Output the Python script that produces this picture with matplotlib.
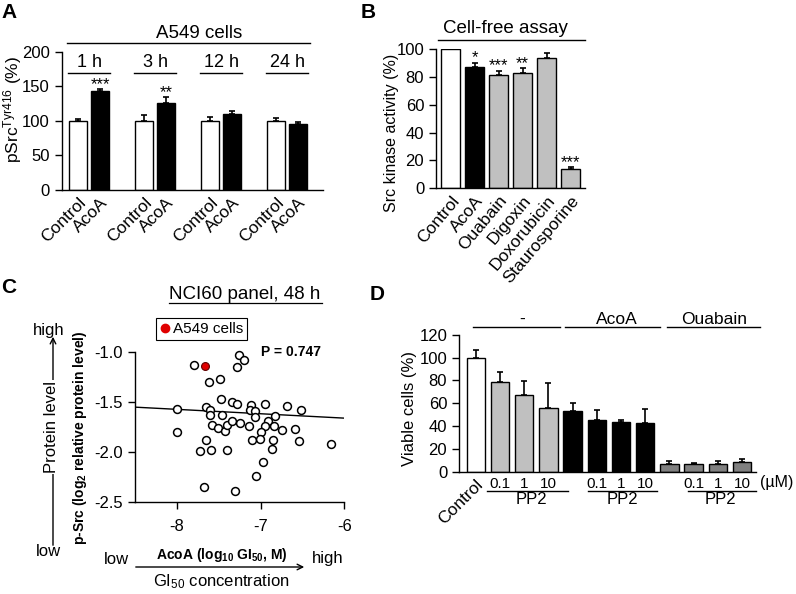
import numpy as np
import matplotlib
matplotlib.use('Agg')
import matplotlib.pyplot as plt
from matplotlib.lines import Line2D

plt.rcParams['font.family'] = ['Liberation Sans', 'DejaVu Sans']
plt.rcParams['mathtext.fontset'] = 'custom'
plt.rcParams['mathtext.rm'] = 'Liberation Sans'
plt.rcParams['mathtext.bf'] = 'Liberation Sans:bold'
plt.rcParams['mathtext.it'] = 'Liberation Sans:italic'
plt.rcParams['axes.unicode_minus'] = False
plt.rcParams['axes.linewidth'] = 1.0

# --- A: pSrc in A549 cells
time_points = ['1 h', '3 h', '12 h', '24 h']
a_control = [100, 100, 100, 100]
a_control_err = [3, 8, 5, 4]
a_acoa = [143, 126, 110.5, 96]
a_acoa_err = [2.5, 8, 3.5, 2]
a_stars = ['***', '**', '', '']

# --- B: cell-free assay
b_labels = ['Control', 'AcoA', 'Ouabain', 'Digoxin', 'Doxorubicin', 'Staurosporine']
b_values = [100, 87.5, 81.5, 83.2, 94, 14]
b_err = [0, 3, 3, 3, 3, 1]
b_colors = ['white', 'black', '#c0c0c0', '#c0c0c0', '#c0c0c0', '#c0c0c0']
b_stars = ['', '*', '***', '**', '', '***']

# --- C: NCI60 scatter
c_gi50 = [-7.80, -7.26, -7.20, -7.28, -7.62, -7.49, -8.00, -8.00,
          -7.47, -7.34, -7.28, -7.65, -7.60, -7.60, -7.46, -7.12, -7.13, -7.07, -7.07,
          -6.95, -6.68, -6.52, -6.83,
          -7.58, -7.51, -7.43, -7.40, -7.34, -7.25, -7.14, -6.91, -6.95, -6.99, -6.84,
          -6.75, -6.59,
          -7.65, -7.10, -7.01, -6.85, -6.54, -6.16,
          -7.72, -7.59, -7.40, -6.86,
          -6.97, -7.06, -7.67, -7.30]
c_psrc = [-1.13, -1.03, -1.08, -1.15, -1.30, -1.27, -1.57, -1.80,
          -1.47, -1.50, -1.52, -1.55, -1.58, -1.63, -1.63, -1.53, -1.58, -1.59, -1.65,
          -1.52, -1.54, -1.58, -1.64,
          -1.73, -1.76, -1.79, -1.73, -1.69, -1.71, -1.74, -1.69, -1.74, -1.80, -1.74,
          -1.78, -1.77,
          -1.88, -1.88, -1.87, -1.88, -1.89, -1.92,
          -1.99, -1.98, -1.98, -1.97,
          -2.10, -2.24, -2.35, -2.39]
a549_gi50 = -7.66
a549_psrc = -1.137
fit_x = [-8.5, -6.0]
fit_y = [-1.55, -1.66]
p_value = 0.747

# --- D: viable cells
d_groups = ['-', 'AcoA', 'Ouabain']
d_ticks = ['Control', '0.1', '1', '10', '', '0.1', '1', '10', '', '0.1', '1', '10']
d_values = [100, 78.7, 67.6, 56, 53.4, 45.2, 43.7, 42.9, 7, 7, 7, 8.5]
d_err = [7, 8.5, 12, 22, 7, 8.7, 1.8, 12, 2, 1, 2.5, 3]
d_colors = ['white'] + ['#c0c0c0'] * 3 + ['black'] * 4 + ['#808080'] * 4

W, H = 796, 594
fig = plt.figure(figsize=(W / 100, H / 100), dpi=100)


def rect(x0, y0, x1, y1):
    # pixel box -> figure fraction
    return [x0 / W, 1 - y1 / H, (x1 - x0) / W, (y1 - y0) / H]


def ftext(x, y, s, **kw):
    # text placed by pixel centre
    kw.setdefault('ha', 'center')
    kw.setdefault('va', 'center')
    return fig.text(x / W, 1 - y / H, s, **kw)


def style(ax):
    for s in ['top', 'right']:
        ax.spines[s].set_visible(False)
    ax.tick_params(axis='y', direction='out', length=5, width=1, labelsize=12)
    ax.tick_params(axis='x', length=0, labelsize=12)


ekw = dict(ecolor='black', elinewidth=1.2, capsize=2.5, capthick=1.2)

# panel A
axA = fig.add_axes(rect(61.7, 51.7, 323, 190))
pos_c = np.arange(4) * 3
pos_a = pos_c + 1
axA.bar(pos_c, a_control, 0.83, color='white', edgecolor='black', lw=1,
        yerr=[np.zeros(4), a_control_err], error_kw=ekw)
axA.bar(pos_a, a_acoa, 0.83, color='black', edgecolor='black', lw=1,
        yerr=[np.zeros(4), a_acoa_err], error_kw=ekw)
for x, v, e, s in zip(pos_a, a_acoa, a_acoa_err, a_stars):
    axA.text(x, v + e + 1, s, ha='center', va='baseline', fontsize=12)
for x, t in zip(pos_c, time_points):
    axA.plot([x - 0.45, x + 1.45], [169.6, 169.6], color='k', lw=1, clip_on=False)
    axA.text(x + 0.5, 184, t, ha='center', va='center', fontsize=13)
axA.plot([-0.53, 10.53], [212, 212], color='k', lw=1, clip_on=False)
axA.text(5.5, 226, 'A549 cells', ha='center', va='center', fontsize=13.5)
style(axA)
axA.set_ylim(0, 200)
axA.set_yticks([0, 50, 100, 150, 200])
axA.set_xlim(-0.75, 11.12)
axA.set_xticks(np.ravel(np.column_stack([pos_c, pos_a])))
axA.set_xticklabels(['Control', 'AcoA'] * 4, rotation=45, ha='right',
                    rotation_mode='anchor', fontsize=12.5)
ftext(13, 110, 'pSrc$^{\\mathrm{Tyr416}}$ (%)', fontsize=12.5, rotation=90)

# panel B
axB = fig.add_axes(rect(436, 49.3, 585, 188.3))
pos_b = np.arange(len(b_labels))
axB.bar(pos_b, b_values, 0.79, color=b_colors, edgecolor='black', lw=1,
        yerr=[np.zeros(len(b_err)), b_err], error_kw=ekw)
for x, v, e, s in zip(pos_b, b_values, b_err, b_stars):
    axB.text(x, v + e + 0.5, s, ha='center', va='baseline', fontsize=12)
axB.plot([-0.53, 5.6], [106.7, 106.7], color='k', lw=1, clip_on=False)
axB.text(2.3, 115, 'Cell-free assay', ha='center', va='center', fontsize=13.5)
style(axB)
axB.set_ylim(0, 100)
axB.set_yticks(range(0, 101, 20))
axB.set_xlim(-0.61, 5.6)
axB.set_xticks(pos_b)
axB.set_xticklabels(b_labels, rotation=50, ha='right', rotation_mode='anchor',
                    fontsize=12.5)
ftext(391.7, 133.3, 'Src kinase activity (%)', fontsize=11.5, rotation=90)

# panel C
axC = fig.add_axes(rect(135, 312.3, 344.3, 502))
axC.plot(fit_x, fit_y, color='black', lw=1, zorder=2)
axC.scatter(c_gi50, c_psrc, s=32, facecolor='white', edgecolor='black',
            lw=1.1, zorder=3, clip_on=False)
axC.scatter([a549_gi50], [a549_psrc], s=32, facecolor='#e00000',
            edgecolor='#600000', lw=0.8, zorder=4)
axC.spines['top'].set_visible(False)
axC.spines['right'].set_visible(False)
axC.spines['left'].set_bounds(-2.5, -1.0)
axC.set_xlim(-8.5, -6)
axC.set_ylim(-2.5, -0.6)
axC.set_xticks([-8, -7, -6])
axC.set_yticks([-1.0, -1.5, -2.0, -2.5])
axC.set_yticklabels(['%.1f' % t for t in [-1.0, -1.5, -2.0, -2.5]])
axC.tick_params(direction='out', length=5, width=1, labelsize=12)
axC.tick_params(axis='x', pad=7)
axC.text(-7.0, -1.0, 'P = %.3f' % p_value, fontsize=10, fontweight='bold',
         va='center', ha='left')
h = Line2D([], [], marker='o', ls='none', markerfacecolor='#e00000',
           markeredgecolor='#e00000', markersize=6)
leg = axC.legend([h], ['A549 cells'], loc='upper left',
                 bbox_to_anchor=(0.1, 0.968), borderaxespad=0, fontsize=11,
                 frameon=True, fancybox=False, framealpha=1, edgecolor='black',
                 borderpad=0.25, handlelength=0.7, handletextpad=0.15)
leg.get_frame().set_linewidth(0.8)
ftext(80, 438, 'p-Src (log$_{\\mathbf{2}}$ relative protein level)',
      fontsize=10, fontweight='bold', rotation=90)

ftext(221.7, 555, 'AcoA (log$_{\\mathbf{10}}$ GI$_{\\mathbf{50}}$, M)',
      fontsize=10, fontweight='bold')
ftext(221.7, 582, 'GI$_{50}$ concentration', fontsize=12)
ftext(116.7, 560, 'low', fontsize=12)
ftext(328, 559, 'high', fontsize=12)
fig.add_artist(matplotlib.patches.FancyArrowPatch(
    (133 / W, 1 - 567 / H), (307 / W, 1 - 567 / H), transform=fig.transFigure,
    arrowstyle='->', mutation_scale=10, lw=1, color='black'))
fig.add_artist(matplotlib.patches.FancyArrowPatch(
    (53 / W, 1 - 548 / H), (53 / W, 1 - 334 / H), transform=fig.transFigure,
    arrowstyle='->', mutation_scale=10, lw=1, color='black'))
ftext(49, 331, 'high', fontsize=12)
ftext(48, 552, 'low', fontsize=12)
ftext(51, 427, 'Protein level', fontsize=12, rotation=90,
      bbox=dict(facecolor='white', edgecolor='none', pad=1))
ftext(245, 294, 'NCI60 panel, 48 h', fontsize=13.5)
fig.add_artist(Line2D([169 / W, 322 / W], [1 - 302.7 / H, 1 - 302.7 / H],
                      transform=fig.transFigure, color='black', lw=0.9))

# panel D
axD = fig.add_axes(rect(459, 334.7, 756, 471.7))
pos_d = np.arange(len(d_values))
axD.bar(pos_d, d_values, 0.76, color=d_colors, edgecolor='black', lw=1,
        yerr=[np.zeros(len(d_err)), d_err], error_kw=ekw)
style(axD)
axD.set_ylim(0, 120)
axD.set_yticks(range(0, 121, 20))
axD.set_xlim(-0.69, 11.58)
axD.set_xticks(pos_d)
axD.set_xticklabels(d_ticks, fontsize=11)
lab0 = axD.get_xticklabels()[0]
lab0.set_rotation(45)
lab0.set_ha('right')
lab0.set_rotation_mode('anchor')
lab0.set_fontsize(12.5)
ftext(410, 408.3, 'Viable cells (%)', fontsize=12, rotation=90)
for (x0, x1), xt, g in zip([(-0.1, 3.48), (3.69, 7.61), (7.89, 11.73)],
                           [1.9, 5.85, 9.86], d_groups):
    axD.plot([x0, x1], [127, 127], color='k', lw=1, clip_on=False)
    axD.text(xt, 133, g, ha='center', va='center', fontsize=12.5)
for (x0, x1), xt in zip([(0.45, 3.82), (4.65, 7.47), (8.78, 11.58)],
                        [2.31, 6.05, 10.13]):
    axD.plot([x0, x1], [-16.6, -16.6], color='k', lw=1, clip_on=False)
    axD.text(xt, -24.5, 'PP2', ha='center', va='center', fontsize=12)
axD.text(12.43, -9.6, '(µM)', ha='center', va='center', fontsize=11.5)

# panel letters
for t, x, y in [('A', 9, 12.5), ('B', 368, 12.5), ('C', 9, 287.5), ('D', 376.7, 294)]:
    ftext(x, y, t, fontsize=15, fontweight='bold')

fig.savefig('out.png', dpi=100)
